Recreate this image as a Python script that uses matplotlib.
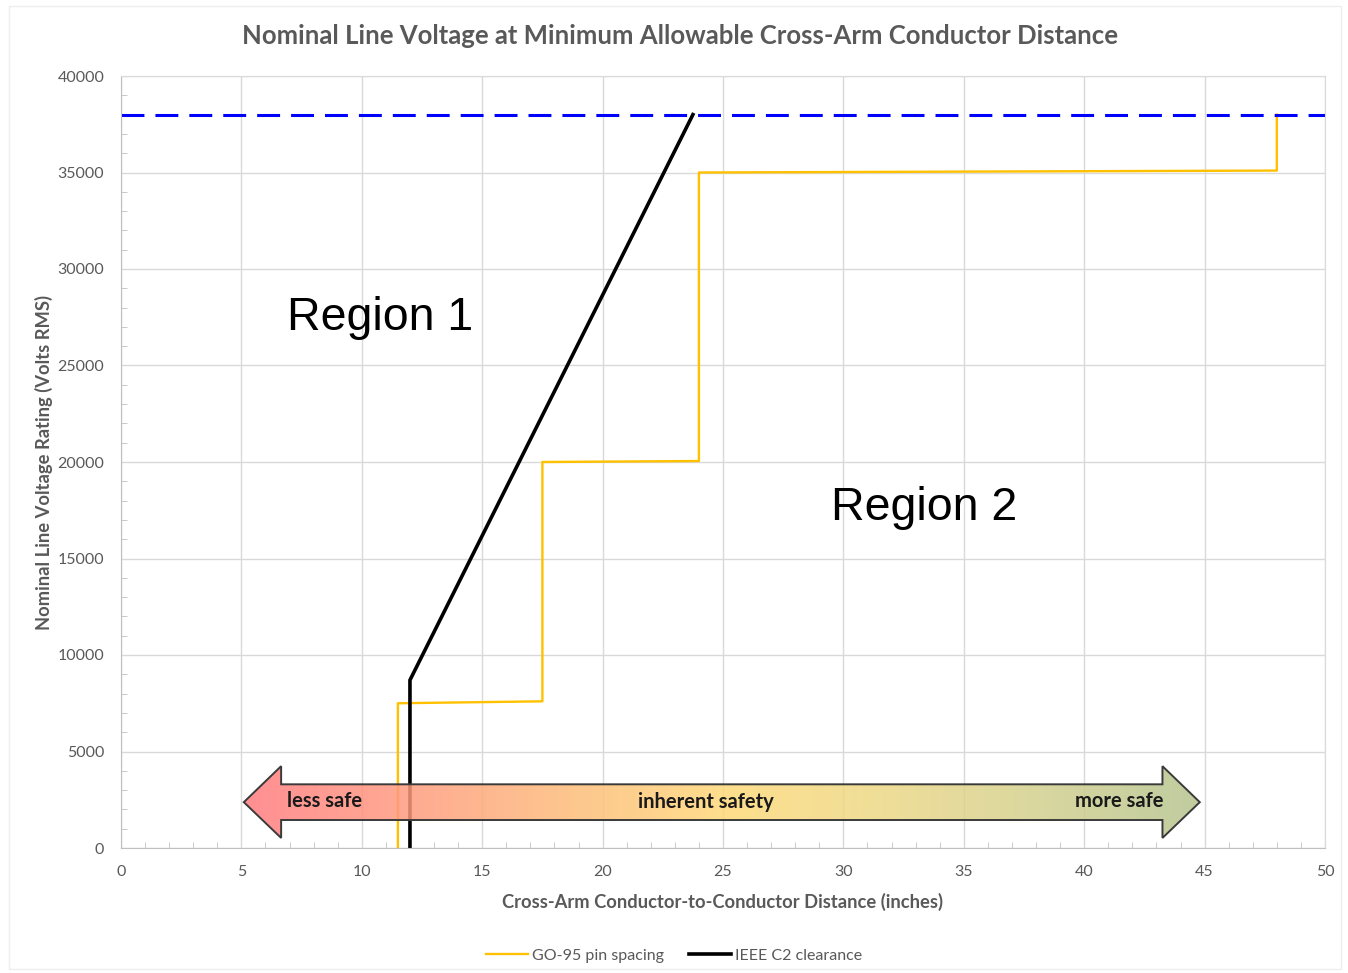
import numpy as np
import matplotlib
matplotlib.use("Agg")
import matplotlib.pyplot as plt
from matplotlib.patches import Polygon, Rectangle
from matplotlib.colors import LinearSegmentedColormap
from matplotlib.ticker import MultipleLocator

# data
go95_x = [11.5, 11.5, 17.5, 17.5, 24.0, 24.0, 48.0, 48.0]
go95_y = [0, 7500, 7600, 20000, 20050, 35000, 35100, 38000]
ieee_x = [12.0, 12.0, 23.75]
ieee_y = [0, 8700, 38000]
clearance_limit = 38000

x_ticks = [0, 5, 10, 15, 20, 25, 30, 35, 40, 45, 50]
y_ticks = [0, 5000, 10000, 15000, 20000, 25000, 30000, 35000, 40000]

arrow_labels = ["less safe", "inherent safety", "more safe"]
arrow_stops = ["#FF7B80", "#FF9A7E", "#FDBB7A", "#FFD878", "#EDD886", "#D3D08E", "#B5C38E"]

GRAY = "#595959"
GRID = "#D9D9D9"
plt.rcParams["font.family"] = ["Lato", "DejaVu Sans"]

fig = plt.figure(figsize=(13.48, 9.73), dpi=100)
ax = fig.add_axes([121 / 1348, 1 - 848 / 973, (1325 - 121) / 1348, (848 - 76) / 973])

# faint chart-area border
fig.patches.append(Rectangle((0.007, 0.004), 0.988, 0.99, transform=fig.transFigure,
                             fill=False, edgecolor="#EEEEEE", lw=1.0))

ax.plot(go95_x, go95_y, color="#FFC000", lw=1.7, label="GO-95 pin spacing", zorder=2)
ax.plot(ieee_x, ieee_y, color="black", lw=2.6, label="IEEE C2 clearance", zorder=2)
ax.axhline(clearance_limit, color="#0000FF", lw=2.2, ls=(0, (7.5, 3.6)), zorder=2)

# gradient double arrow
x0, x1 = 5.1, 44.8
head = 1.55
body_lo, body_hi = 1450, 3300
head_lo, head_hi = 520, 4240
ymid = (body_lo + body_hi) / 2
verts = [(x0, ymid), (x0 + head, head_hi), (x0 + head, body_hi), (x1 - head, body_hi),
         (x1 - head, head_hi), (x1, ymid), (x1 - head, head_lo), (x1 - head, body_lo),
         (x0 + head, body_lo), (x0 + head, head_lo)]
poly = Polygon(verts, closed=True, facecolor="none", edgecolor="#3A3A3A", lw=1.4, zorder=4)
ax.add_patch(poly)
cmap = LinearSegmentedColormap.from_list("safety", arrow_stops)
grad = np.linspace(0, 1, 512).reshape(1, -1)
im = ax.imshow(grad, cmap=cmap, extent=(x0, x1, head_lo, head_hi), aspect="auto",
               alpha=0.85, zorder=3, interpolation="bilinear")
im.set_clip_path(poly)

txt_kw = dict(fontsize=14.5, fontweight="bold", color="#1A1A1A", va="center", zorder=5)
ax.text(6.9, 2420, arrow_labels[0], **txt_kw)
ax.text(24.3, 2360, arrow_labels[1], ha="center", **txt_kw)
ax.text(43.3, 2420, arrow_labels[2], ha="right", **txt_kw)

ax.text(6.9, 27450, "Region 1", fontsize=33.5, family="Liberation Sans", va="center")
ax.text(29.5, 17600, "Region 2", fontsize=33.5, family="Liberation Sans", va="center")

ax.set_xlim(0, 50)
ax.set_ylim(0, 40000)
ax.set_xticks(x_ticks)
ax.set_yticks(y_ticks)
ax.xaxis.set_minor_locator(MultipleLocator(1))
ax.yaxis.set_minor_locator(MultipleLocator(1000))
ax.grid(True, which="major", color=GRID, lw=1.0, zorder=0)
ax.set_axisbelow(True)
for s in ax.spines.values():
    s.set_color(GRID)
ax.spines["left"].set_color("#BFBFBF")
ax.spines["bottom"].set_color("#BFBFBF")
ax.tick_params(which="major", length=0, labelsize=11.5, labelcolor=GRAY, pad=12)
ax.tick_params(which="minor", length=4, color="#BFBFBF", direction="in")

ax.set_xlabel("Cross-Arm Conductor-to-Conductor Distance (inches)", fontsize=13.2,
              fontweight="bold", color=GRAY, labelpad=10)
ax.set_ylabel("Nominal Line Voltage Rating (Volts RMS)", fontsize=13.2,
              fontweight="bold", color=GRAY, labelpad=3)
fig.text(680 / 1348, 1 - 36 / 973, "Nominal Line Voltage at Minimum Allowable Cross-Arm Conductor Distance",
         fontsize=18.5, fontweight="bold", color=GRAY, ha="center", va="center")

leg = fig.legend(loc="lower center", bbox_to_anchor=(0.5, -0.004), ncol=2, frameon=False,
                 fontsize=11.5, handlelength=2.6, handletextpad=0.25, columnspacing=1.6)
for t in leg.get_texts():
    t.set_color(GRAY)

fig.savefig("out.png", dpi=100)
